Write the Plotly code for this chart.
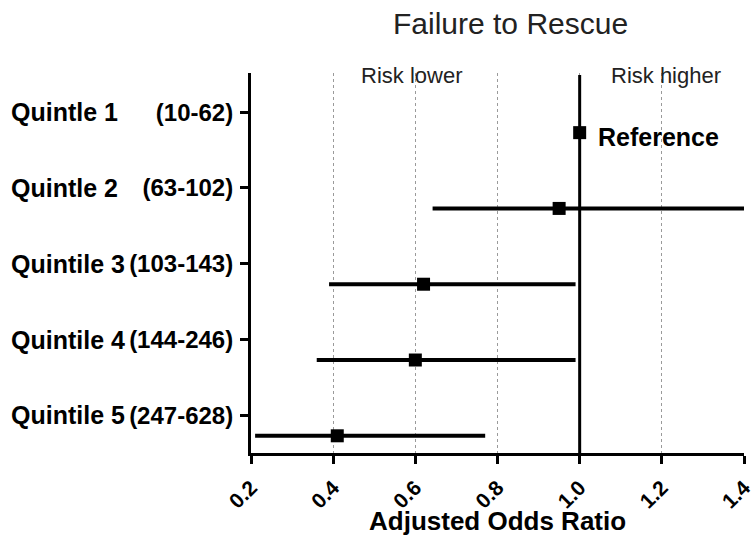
import plotly.graph_objects as go

# Hospital volume quintiles (top to bottom)
quintile_names = ["Quintle 1", "Quintle 2", "Quintile 3", "Quintile 4", "Quintile 5"]
volume_ranges = ["(10-62)", "(63-102)", "(103-143)", "(144-246)", "(247-628)"]
rows = [5, 4, 3, 2, 1]

# Adjusted odds ratios with 95% confidence limits (Quintile 1 is the reference)
odds_ratio = [1.00, 0.95, 0.62, 0.60, 0.41]
ci_low = [1.00, 0.642, 0.39, 0.36, 0.21]
ci_high = [1.00, 1.40, 0.99, 0.99, 0.77]

x_ticks = [0.2, 0.4, 0.6, 0.8, 1.0, 1.2, 1.4]
x_tick_labels = ["0.2", "0.4", "0.6", "0.8", "1.0", "1.2", "1.4"]

FONT = "Liberation Sans, Arial, sans-serif"
label_offset = 0.27  # category labels sit slightly above their estimate rows

W, H = 756, 541
M_L, M_R, M_T, M_B = 251, 12, 73, 88
PW, PH = W - M_L - M_R, H - M_T - M_B

fig = go.Figure()

# CI bars for the non-reference groups
fig.add_trace(go.Scatter(
    x=odds_ratio[1:], y=rows[1:], mode="markers",
    marker=dict(symbol="square", size=13, color="black"),
    error_x=dict(
        type="data", symmetric=False,
        array=[h - o for h, o in zip(ci_high[1:], odds_ratio[1:])],
        arrayminus=[o - l for o, l in zip(odds_ratio[1:], ci_low[1:])],
        thickness=4, width=0, color="black",
    ),
    showlegend=False, hoverinfo="skip", cliponaxis=False,
))

# Reference group marker
fig.add_trace(go.Scatter(
    x=[odds_ratio[0]], y=[rows[0]], mode="markers",
    marker=dict(symbol="square", size=13, color="black"),
    showlegend=False, hoverinfo="skip", cliponaxis=False,
))

# Line of no effect at OR = 1
fig.add_shape(type="line", xref="x", yref="paper", x0=1.0, x1=1.0, y0=0, y1=0.995,
              line=dict(color="black", width=3), layer="above")

annotations = []
# Left-aligned group names
for name, r in zip(quintile_names, rows):
    annotations.append(dict(
        x=(9 - M_L) / PW, xref="paper", y=r + label_offset, yref="y",
        text=f"<b>{name}</b>", showarrow=False, xanchor="left", yanchor="middle",
        font=dict(family=FONT, size=25, color="black"),
    ))

annotations += [
    dict(x=1.0, y=rows[0], xref="x", yref="y", text="<b>Reference</b>", showarrow=False,
         xanchor="left", yanchor="middle", xshift=16, yshift=-4,
         font=dict(family=FONT, size=25, color="black")),
    dict(x=0.59, y=1.0, xref="x", yref="paper", text="Risk lower", showarrow=False,
         xanchor="center", yanchor="middle", yshift=-2,
         font=dict(family=FONT, size=22, color="#222")),
    dict(x=1.21, y=1.0, xref="x", yref="paper", text="Risk higher", showarrow=False,
         xanchor="center", yanchor="middle", yshift=-2,
         font=dict(family=FONT, size=22, color="#222")),
    dict(x=(510 - M_L) / PW, y=(H - M_B - 23) / PH, xref="paper", yref="paper",
         text="Failure to Rescue", showarrow=False, xanchor="center", yanchor="middle",
         font=dict(family=FONT, size=30, color="#222")),
    dict(x=(497 - M_L) / PW, y=(H - M_B - 521) / PH, xref="paper", yref="paper",
         text="<b>Adjusted Odds Ratio</b>", showarrow=False, xanchor="center", yanchor="middle",
         font=dict(family=FONT, size=26, color="black")),
]

fig.update_layout(
    width=W, height=H,
    margin=dict(l=M_L, r=M_R, t=M_T, b=M_B),
    paper_bgcolor="white", plot_bgcolor="white",
    annotations=annotations,
    xaxis=dict(
        range=[0.2, 1.4], tickvals=x_ticks, ticktext=[f"<b>{t}</b>" for t in x_tick_labels],
        tickangle=-45, tickfont=dict(family=FONT, size=21, color="black"),
        ticklabelstandoff=3,
        showline=True, linecolor="black", linewidth=3,
        ticks="outside", ticklen=8, tickwidth=3, tickcolor="black",
        showgrid=True, gridcolor="#9a9a9a", gridwidth=1, griddash="dot",
        zeroline=False, automargin=False,
    ),
    yaxis=dict(
        range=[0.773, 5.787],
        tickvals=[r + label_offset for r in rows],
        ticktext=[f"<b>{v}</b>" for v in volume_ranges],
        tickfont=dict(family=FONT, size=24, color="black"),
        ticklabelstandoff=2,
        showline=True, linecolor="black", linewidth=3,
        ticks="outside", ticklen=8, tickwidth=3, tickcolor="black",
        showgrid=False, zeroline=False, automargin=False,
    ),
)

fig.write_html("out.html")
